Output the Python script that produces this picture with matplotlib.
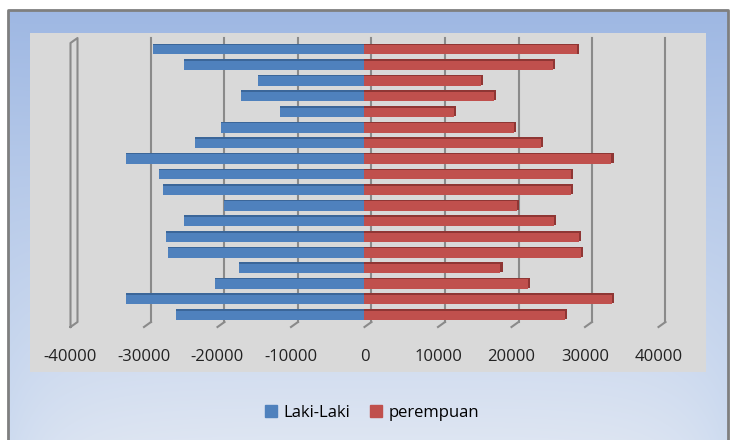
import numpy as np
import matplotlib.pyplot as plt
from matplotlib.patches import Rectangle

# population by age group, top bar first
laki = [-28800, -24600, -14500, -16800, -11500, -19500, -23100, -32500, -27900,
        -27400, -19100, -24600, -27000, -26800, -17100, -20400, -32500, -25600]
perempuan = [28900, 25600, 15800, 17600, 12200, 20300, 24000, 33600, 28100,
             28100, 20700, 25800, 29200, 29400, 18500, 22300, 33700, 27300]
ticks = [-40000, -30000, -20000, -10000, 0, 10000, 20000, 30000, 40000]
labels = ['Laki-Laki', 'perempuan']

blue, blue_dk = '#4f81bd', '#3b6699'
red, red_dk = '#c0504d', '#8f3634'
grid_c = '#8a8a8a'

W, H = 732, 440
fig = plt.figure(figsize=(W / 100, H / 100), dpi=100)
fig.patch.set_facecolor('white')

# background gradient inside the grey frame
bg = fig.add_axes([0, 0, 1, 1])
yy, xx = np.mgrid[0:H, 0:W]
t = np.clip((yy - 11) / (H - 11), 0, 1)[..., None]
top = np.array([0.62, 0.72, 0.89])
bot = np.array([0.87, 0.90, 0.95])
img = top * (1 - t) + bot * t
edge = np.minimum(xx - 8, 728 - xx).clip(0)
e = (np.exp(-edge / 50.0) * 0.35 * t[..., 0])[..., None]
img = img * (1 - e) + np.array([0.68, 0.78, 0.92]) * e
outside = (yy < 11) | (xx < 8) | (xx > 728)
img[outside] = 1.0
bg.imshow(img, extent=[0, W, H, 0], aspect='auto', zorder=0)
bg.plot([8, 8, 728, 728], [H, 10.5, 10.5, H], color='#7f7f7f', lw=2, zorder=2)
bg.set_xlim(0, W)
bg.set_ylim(H, 0)
bg.axis('off')

# plot area
ax = fig.add_axes([30 / W, (H - 372) / H, 676 / W, 339 / H])
ax.set_facecolor('#d9d9d9')
x0, sx = 364.5, 73.5 / 10000
y0, sy = 49.5, 15.62
ax.set_xlim((30 - x0) / sx, (706 - x0) / sx)
ax.set_ylim((372 - y0) / sy, (33 - y0) / sy)
for s in ax.spines.values():
    s.set_visible(False)
ax.set_xticks([])
ax.set_yticks([])

dx, dy = 7 / sx, 5 / sy
ytop, ybot = (38 - y0) / sy, (322 - y0) / sy
for tk in ticks[1:]:
    ax.plot([tk + dx, tk + dx], [ytop, ybot], color=grid_c, lw=1.5, zorder=1)
    ax.plot([tk + dx, tk], [ybot, ybot + dy], color=grid_c, lw=1.5, zorder=1)
# left wall
w = ticks[0]
ax.plot([w, w, w + dx, w + dx, w], [ybot + dy, ytop + dy, ytop, ybot, ybot + dy],
        color=grid_c, lw=1.5, zorder=1)

for lab in ticks:
    ax.text(lab, (357 - y0) / sy, str(lab), ha='center', va='center',
            fontsize=12, family='Open Sans', color='#222222')

pos = np.arange(len(laki))
bh = 10 / sy
# 3d look: thin darker top strip and end face
ax.barh(pos - 0.06, laki, height=bh, color=blue_dk, zorder=2)
ax.barh(pos + 0.02, laki, height=bh - 0.04, color=blue, zorder=3)
ax.barh(pos - 0.06, np.array(perempuan) + 280, height=bh, color=red_dk, zorder=2)
ax.barh(pos + 0.02, perempuan, height=bh - 0.04, color=red, zorder=3)

handles = [Rectangle((0, 0), 1, 1, color=blue), Rectangle((0, 0), 1, 1, color=red)]
fig.legend(handles, labels, loc='center', bbox_to_anchor=(372 / W, 1 - 413 / H),
           ncol=2, frameon=False, handlelength=0.7, handleheight=0.7,
           handletextpad=0.4, columnspacing=1.2,
           prop={'family': 'Open Sans', 'size': 12})

fig.savefig('out.png', dpi=100)
